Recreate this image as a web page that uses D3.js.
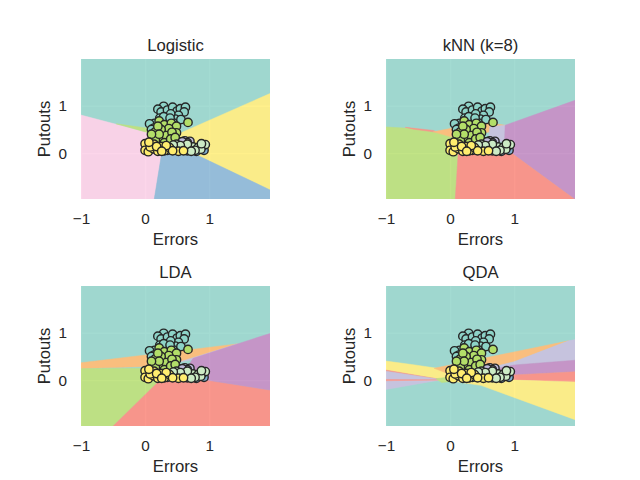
<!DOCTYPE html>
<html>
<head>
<meta charset="utf-8">
<script src="https://cdn.jsdelivr.net/npm/d3@7"></script>
<style>
  body { margin: 0; background: #fff; }
  text { font-family: "Liberation Sans", Arial, sans-serif; fill: #262626; }
</style>
</head>
<body>
<svg id="chart" width="640" height="480"></svg>
<script>

// panel titles, in drawing order (row by row)
var titles = ["Logistic", "kNN (k=8)", "LDA", "QDA"]

var xTicks = [-1, 0, 1]
var yTicks = [0, 1]

// class index -> d3.schemeSet3 (same as matplotlib Set3)
// points: [Errors, Putouts]
var tealPts = [[0.29,0.99],[0.20,0.93],[0.25,0.87],[0.35,0.91],[0.43,0.97],[0.50,0.89],[0.55,0.94],
  [0.63,0.97],[0.61,0.87],[0.52,0.80],[0.47,0.72],[0.40,0.83],[0.33,0.70],[0.23,0.74],[0.15,0.63],
  [0.07,0.62],[0.14,0.53],[0.29,0.77],[0.44,0.64],[0.56,0.71],[0.39,0.74],[0.10,0.50]]
var greenPts = [[0.22,0.68],[0.30,0.60],[0.41,0.63],[0.49,0.57],[0.37,0.52],[0.25,0.50],[0.16,0.45],
  [0.15,0.36],[0.25,0.30],[0.33,0.37],[0.49,0.43],[0.67,0.65],[0.20,0.57],[0.42,0.44],[0.16,0.27],
  [0.30,0.22],[0.40,0.30],[0.47,0.33],[0.22,0.40],[0.10,0.40]]
var lavenderPts = [[0.62,0.26],[0.70,0.25],[0.66,0.22],[0.58,0.24]]
var bluePts = [[0.92,0.06],[0.80,0.04],[0.66,0.05],[0.48,0.08],[0.35,0.06]]
var mintPts = [[0.49,0.19],[0.57,0.09],[0.62,0.14],[0.70,0.10],[0.75,0.13],[0.83,0.12],[0.90,0.15],
  [0.94,0.18],[0.87,0.08],[0.66,0.19],[0.55,0.16],[0.78,0.06],[0.44,0.17],[0.72,0.04],[0.88,0.20]]
var yellowPts = [[0.00,0.20],[0.00,0.06],[0.05,0.03],[0.13,0.09],[0.14,0.19],[0.25,0.14],[0.30,0.05],
  [0.38,0.12],[0.52,0.04],[0.08,0.13],[0.20,0.04],[0.43,0.05],[0.33,0.16],[0.18,0.14],[0.26,0.04],
  [0.60,0.05],[0.06,0.23]]

// predicted regions (teal, class 0, is the background)
var logisticRegions = [
  {cls: 7, pts: [[-1.1,0.84],[0.08,0.42],[0.3,0.12],[0.26,0.0],[0.14,-1.0],[-1.1,-1.0]]},
  {cls: 6, pts: [[-0.45,0.62],[0.35,0.47],[0.32,0.2],[0.08,0.42]]},
  {cls: 11, pts: [[0.545,0.42],[2.0,1.29],[2.0,-0.81],[0.70,0.03],[0.5,0.2]]},
  {cls: 4, pts: [[0.26,0.0],[0.3,0.12],[0.5,0.2],[0.70,0.03],[2.0,-0.81],[2.0,-1.0],[0.14,-1.0]]}
]
var knnRegions = [
  {cls: 6, pts: [[-1.1,0.56],[-0.57,0.52],[-0.26,0.45],[0.2,0.38],[0.13,0.07],[0.08,-1.0],[-1.1,-1.0]]},
  {cls: 3, pts: [[-0.7,0.545],[-0.26,0.48],[-0.2,0.44],[-0.57,0.505]]},
  {cls: 5, pts: [[-0.26,0.45],[0.0,0.52],[0.3,0.6],[0.47,0.66],[0.70,0.62],[0.86,0.59],[0.62,0.45],[0.3,0.35],[0.0,0.35]]},
  {cls: 2, pts: [[0.62,0.56],[0.86,0.59],[0.85,0.24],[0.6,0.25]]},
  {cls: 9, pts: [[0.86,0.59],[2.0,1.14],[2.0,-1.0],[1.97,-1.0],[0.96,0.0],[0.85,0.24]]},
  {cls: 3, pts: [[0.13,0.07],[0.4,0.05],[0.96,0.0],[1.97,-1.0],[0.08,-1.0]]}
]
var ldaRegions = [
  {cls: 5, pts: [[-1.1,0.35],[1.44,0.765],[0.75,0.46],[0.3,0.3],[-1.1,0.24]]},
  {cls: 2, pts: [[0.55,0.39],[1.44,0.765],[0.75,0.43]]},
  {cls: 6, pts: [[-1.1,0.24],[0.3,0.25],[0.18,-0.07],[-0.52,-1.0],[-1.1,-1.0]]},
  {cls: 3, pts: [[0.18,-0.07],[0.3,0.1],[0.96,0.0],[2.0,-0.22],[2.0,-1.0],[-0.52,-1.0]]},
  {cls: 9, pts: [[0.75,0.46],[2.0,1.01],[2.0,-0.22],[0.96,0.0],[0.6,0.15]]}
]
var qdaRegions = [
  {cls: 11, pts: [[-1.1,0.42],[-0.6,0.33],[-0.2,0.25],[0.1,0.2],[0.1,0.05],[-0.13,0.01],[-1.1,0.23]]},
  {cls: 3, pts: [[-1.1,0.235],[-0.13,0.01],[-1.1,0.205]]},
  {cls: 2, pts: [[-1.1,0.21],[-0.13,0.01],[-1.1,-0.22]]},
  {cls: 3, pts: [[-1.1,0.015],[-0.13,0.005],[-1.1,-0.015]]},
  {cls: 5, pts: [[-0.25,0.25],[1.85,0.83],[1.0,0.39],[0.5,0.22],[0.0,0.12]]},
  {cls: 2, pts: [[0.5,0.22],[1.0,0.39],[1.85,0.83],[2.0,0.87],[2.0,0.42],[1.0,0.32],[0.5,0.18]]},
  {cls: 9, pts: [[0.5,0.18],[1.0,0.32],[2.0,0.425],[2.0,0.18],[1.0,0.11],[0.5,0.1]]},
  {cls: 3, pts: [[0.3,0.06],[1.0,0.11],[2.0,0.18],[2.0,-0.04],[1.0,0.0],[0.3,0.02]]},
  {cls: 11, pts: [[-0.13,0.01],[1.0,0.0],[2.0,-0.04],[2.0,-0.86],[0.48,-0.11]]},
  {cls: 6, pts: [[-0.22,0.03],[-0.05,0.06],[0.03,-0.03],[-0.13,-0.05]]}
]

var regionSets = [logisticRegions, knnRegions, ldaRegions, qdaRegions]

var points = []
    .concat(tealPts.map(function(p){ return {x: p[0], y: p[1], cls: 0} }))
    .concat(greenPts.map(function(p){ return {x: p[0], y: p[1], cls: 6} }))
    .concat(lavenderPts.map(function(p){ return {x: p[0], y: p[1], cls: 2} }))
    .concat(bluePts.map(function(p){ return {x: p[0], y: p[1], cls: 4} }))
    .concat(mintPts.map(function(p){ return {x: p[0], y: p[1], cls: 10} }))
    .concat(yellowPts.map(function(p){ return {x: p[0], y: p[1], cls: 11} }))

var color = function(c){ return d3.schemeSet3[c] }

var W = 189, H = 140
var lefts = [81, 386], tops = [59, 286]

var x = d3.scaleLinear().domain([-1, 1.95]).range([0, W])
var y = d3.scaleLinear().domain([-0.97, 1.99]).range([H, 0])

var svg = d3.select("#chart")
var line = d3.line().x(function(d){ return x(d[0]) }).y(function(d){ return y(d[1]) })
var fmt = d3.format("d")

titles.forEach(function(title, i){
    var g = svg.append("g")
               .attr("transform", "translate(" + lefts[i % 2] + "," + tops[Math.floor(i / 2)] + ")")

    g.append("clipPath").attr("id", "clip" + i)
     .append("rect").attr("width", W).attr("height", H)

    g.append("rect").attr("width", W).attr("height", H).attr("fill", "#eaeaf2")

    // grid (sits under the regions, seen through their alpha)
    g.append("g").attr("transform", "translate(0," + H + ")")
     .call(d3.axisBottom(x).tickValues(xTicks).tickSize(-H).tickFormat(""))
     .call(function(a){ a.select(".domain").remove() })
     .selectAll("line").attr("stroke", "#fff").attr("stroke-width", 1.4)
    g.append("g")
     .call(d3.axisLeft(y).tickValues(yTicks).tickSize(-W).tickFormat(""))
     .call(function(a){ a.select(".domain").remove() })
     .selectAll("line").attr("stroke", "#fff").attr("stroke-width", 1.4)

    var reg = g.append("g").attr("clip-path", "url(#clip" + i + ")").attr("opacity", 0.8)
    reg.append("rect").attr("width", W).attr("height", H).attr("fill", color(0))
    reg.selectAll("path")
       .data(regionSets[i])
       .enter()
       .append("path")
       .attr("d", function(d){ return line(d.pts) + "Z" })
       .attr("fill", function(d){ return color(d.cls) })
       .attr("stroke", function(d){ return color(d.cls) })
       .attr("stroke-width", 0.5)

    g.append("g").attr("clip-path", "url(#clip" + i + ")")
     .selectAll("circle")
     .data(points)
     .enter()
     .append("circle")
     .attr("cx", function(d){ return x(d.x) })
     .attr("cy", function(d){ return y(d.y) })
     .attr("r", 4.2)
     .attr("fill", function(d){ return color(d.cls) })
     .attr("stroke", "#262626")
     .attr("stroke-width", 1.4)

    // tick labels
    var xa = g.append("g").attr("transform", "translate(0," + H + ")")
              .call(d3.axisBottom(x).tickValues(xTicks).tickFormat(fmt).tickSize(0).tickPadding(14.3))
    var ya = g.append("g")
              .call(d3.axisLeft(y).tickValues(yTicks).tickFormat(fmt).tickSize(0).tickPadding(14))
    ;[xa, ya].forEach(function(a){
        a.select(".domain").remove()
        a.attr("font-family", null).attr("font-size", null)
        a.selectAll("text").style("font-size", "15.3px").style("fill", "#262626")
    })

    g.append("text").attr("x", W / 2).attr("y", -8.3)
     .attr("text-anchor", "middle").style("font-size", "16.7px").text(title)
    g.append("text").attr("x", W / 2).attr("y", H + 46)
     .attr("text-anchor", "middle").style("font-size", "16.7px").text("Errors")
    g.append("text").attr("transform", "translate(-31," + (H / 2) + ") rotate(-90)")
     .attr("text-anchor", "middle").style("font-size", "16.7px").text("Putouts")
})

</script>
</body>
</html>
